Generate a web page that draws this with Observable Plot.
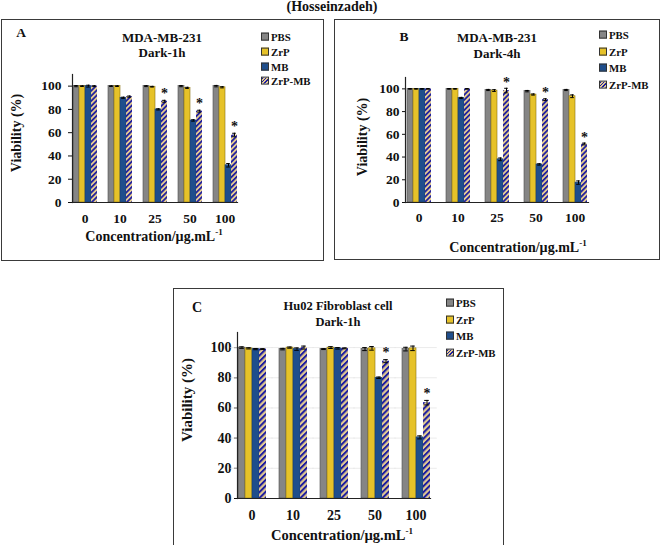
<!DOCTYPE html>
<html><head><meta charset="utf-8">
<script src="https://cdn.jsdelivr.net/npm/d3@7"></script>
<script src="https://cdn.jsdelivr.net/npm/@observablehq/plot@0.6"></script>
<style>
body{margin:0;background:#fff;}
#page{position:relative;width:661px;height:545px;overflow:hidden;font-family:"Liberation Serif","Times New Roman",serif;font-weight:bold;color:#111;}
.box{position:absolute;border:1.5px solid #3a3a3a;box-sizing:border-box;}
.t{position:absolute;white-space:nowrap;transform:translate(-50%,-50%);line-height:1;}
.plot{position:absolute;}
.lg{position:absolute;white-space:nowrap;line-height:1;transform:translateY(-50%);font-size:10.8px;}
.sw{display:inline-block;width:6px;height:6px;border:0.8px solid #333;margin-right:2px;vertical-align:0px;}
</style></head><body><div id="page"></div>
<script>
const concentrations = ["0","10","25","50","100"];
const treatments = ["PBS","ZrP","MB","ZrP-MB"];
const yTicks = [0,20,40,60,80,100];
const gridValues = [20,40,60,80,100];

// Panel A: MDA-MB-231, Dark-1h
const aPBS = [100,100,100,100,100];
const aZrP = [100,100,99.5,98.5,99];
const aMB = [100,90,80,70.5,32];
const aZrPMB = [100,91,87,78.5,58];
const aErrPBS = [0.5,0.3,0.4,0.5,0.6];
const aErrZrP = [0.3,0.3,0.3,0.5,0.5];
const aErrMB = [0.8,0.5,0.5,0.6,1.5];
const aErrZrPMB = [0.4,0.5,0.8,0.8,1.5];
const aStars = ["25","50","100"];

// Panel B: MDA-MB-231, Dark-4h
const bPBS = [100,100,99,98,99];
const bZrP = [100,100,98.5,95,93.5];
const bMB = [100,92,38,33.5,17.5];
const bZrPMB = [100,100,98.5,90.5,51.5];
const bErrPBS = [0.3,0.3,0.5,0.6,0.5];
const bErrZrP = [0.3,0.3,0.8,0.5,1.2];
const bErrMB = [0.3,0.5,1.2,0.6,1.5];
const bErrZrPMB = [0.3,0.3,2,0.8,0.8];
const bStars = ["25","50","100"];

// Panel C: Hu02 Fibroblast cell, Dark-1h
const cPBS = [100,99,99,99,99];
const cZrP = [99.5,100,100,99.5,99.5];
const cMB = [99,99,99.5,80,40.5];
const cZrPMB = [99,100,99.5,91,63.5];
const cErrPBS = [0.5,0.5,0.3,1,1.2];
const cErrZrP = [0.4,0.4,0.6,1.2,1.5];
const cErrMB = [0.4,0.8,0.5,0.5,1];
const cErrZrPMB = [0.3,1,0.3,1,1.5];
const cStars = ["50","100"];

const page = document.getElementById("page");
const NS = "http://www.w3.org/2000/svg";

function addText(html, x, y, size, extra){
  const d = document.createElement("div");
  d.className = "t";
  d.style.left = x+"px"; d.style.top = y+"px"; d.style.fontSize = size+"px";
  if (extra) d.style.transform = extra;
  d.innerHTML = html;
  page.appendChild(d);
}
function addBox(x1,y1,x2,y2){
  const d = document.createElement("div");
  d.className = "box";
  Object.assign(d.style,{left:x1+"px",top:y1+"px",width:(x2-x1)+"px",height:(y2-y1)+"px"});
  page.appendChild(d);
}
const swatchCss = {
  "PBS":"background:#858585;",
  "ZrP":"background:#e6c229;",
  "MB":"background:#1f4e8c;",
  "ZrP-MB":"background:repeating-linear-gradient(135deg,#1c1ca0 0 1.2px,#e3cb92 1.2px 2.6px);"
};
function addLegend(x, ys){
  treatments.forEach((t,i)=>{
    const d = document.createElement("div");
    d.className = "lg";
    d.style.left = x+"px"; d.style.top = ys[i]+"px";
    d.innerHTML = `<span class="sw" style="${swatchCss[t]}"></span>${t}`;
    page.appendChild(d);
  });
}

function panel(cfg){
  const vals = cfg.values, errs = cfg.errors;
  const rows = [];
  concentrations.forEach((c,j)=> treatments.forEach((t,i)=> rows.push({c, t, v: vals[i][j], e: errs[i][j]})));
  const starRows = rows.filter(r => r.t === "ZrP-MB" && cfg.stars.includes(r.c));
  const pid = "stripes" + cfg.id;
  const fillMap = {"PBS":"#858585","ZrP":"#e6c229","MB":"#1f4e8c","ZrP-MB":`url(#${pid})`};
  const strokeMap = {"PBS":"#4d4d4d","ZrP":"#8a7414","MB":"#1a3f70","ZrP-MB":"none"};
  const defs = () => {
    const d = document.createElementNS(NS,"defs");
    const p = document.createElementNS(NS,"pattern");
    p.setAttribute("id", pid);
    p.setAttribute("patternUnits","userSpaceOnUse");
    p.setAttribute("width", cfg.stripe);
    p.setAttribute("height", cfg.stripe);
    p.setAttribute("patternTransform","rotate(45)");
    const r = document.createElementNS(NS,"rect");
    r.setAttribute("width", cfg.stripe); r.setAttribute("height", cfg.stripe); r.setAttribute("fill","#e3cb92");
    const l = document.createElementNS(NS,"rect");
    l.setAttribute("width", cfg.stripe*0.48); l.setAttribute("height", cfg.stripe); l.setAttribute("fill","#1c1ca0");
    p.appendChild(r); p.appendChild(l); d.appendChild(p);
    return d;
  };
  const outerPad = (cfg.width - cfg.ml - cfg.mr) / 5 * 0.15;
  const marks = [defs];
  if (cfg.grid) marks.push(Plot.ruleY(gridValues, {stroke:"#e6e6e6", strokeWidth:0.8, insetLeft:-outerPad-0.5, insetRight:-outerPad-0.5}));
  marks.push(
    Plot.barY(rows, {fx:"c", x:"t", y:"v", fill: d => fillMap[d.t], stroke: d => strokeMap[d.t], strokeWidth:0.6}),
    Plot.ruleX(rows, {fx:"c", x:"t", y1: d => d.v - d.e, y2: d => d.v + d.e, stroke:"#000", strokeWidth:1}),
    Plot.tickY(rows, {fx:"c", x:"t", y: d => d.v + d.e, stroke:"#000", strokeWidth:1, insetLeft:1.2, insetRight:1.2}),
    Plot.tickY(rows, {fx:"c", x:"t", y: d => d.v - d.e, stroke:"#000", strokeWidth:1, insetLeft:1.2, insetRight:1.2}),
    Plot.text(starRows, {fx:"c", x:"t", y: d => d.v + d.e, text: () => "*", dy: cfg.starDy, fontSize: 14, fill:"#111"}),
    Plot.frame({anchor:"left", facet:"super", stroke:"#222", strokeWidth:1.2}),
    Plot.frame({anchor:"bottom", facet:"super", stroke:"#222", strokeWidth:1.2})
  );
  const svg = Plot.plot({
    width: cfg.width, height: cfg.height,
    marginLeft: cfg.ml, marginRight: cfg.mr, marginTop: cfg.mt, marginBottom: cfg.mb,
    style: {fontFamily: '"Liberation Serif", "Times New Roman", serif', fontWeight: "bold", fontSize: cfg.fs + "px", color: "#111", background: "transparent"},
    fx: {domain: concentrations, paddingInner: 0.3, paddingOuter: 0.15, label: null, axis: "bottom", tickSize: 0, tickPadding: cfg.fxPad},
    x: {domain: treatments, padding: 0, axis: null},
    y: {domain: [0,110], ticks: yTicks, tickSize: cfg.yTick, tickPadding: cfg.yPad, label: null},
    color: {type: "identity"},
    marks
  });
  svg.classList.add("plot");
  svg.style.position = "absolute";
  svg.style.left = cfg.left + "px";
  svg.style.top = cfg.top + "px";
  page.appendChild(svg);
}

const sup = '<span style="font-size:9px;position:relative;top:-6px">-1</span>';

// Title
addText("(Hosseinzadeh)", 332, 7, 14);

// Panel A
addBox(1,19,324,261);
panel({id:"A", values:[aPBS,aZrP,aMB,aZrPMB], errors:[aErrPBS,aErrZrP,aErrMB,aErrZrPMB], stars:aStars,
  left:2, top:20, width:320, height:238, ml:64, mr:79, mt:54, mb:56, fs:13.5, fxPad:10.5, yTick:4, yPad:7, stripe:3.6, starDy:-7});
addText("A", 21, 33, 13.5);
addText("MDA-MB-231", 162, 37, 13);
addText("Dark-1h", 162, 52, 13);
addLegend(261, [37,52,67,81]);
addText("Viability (%)", 17, 133, 14, "translate(-50%,-50%) rotate(-90deg)");
addText('Concentration/µg.mL' + sup, 154, 237, 14);

// Panel B
addBox(334,19,660,260);
panel({id:"B", values:[bPBS,bZrP,bMB,bZrPMB], errors:[bErrPBS,bErrZrP,bErrMB,bErrZrPMB], stars:bStars,
  left:335, top:20, width:323, height:238, ml:64, mr:64, mt:57, mb:56, fs:13.5, fxPad:9.5, yTick:3, yPad:3, stripe:3.6, starDy:-6});
addText("B", 404, 37, 13.5);
addText("MDA-MB-231", 497, 37, 13);
addText("Dark-4h", 497, 53, 13);
addLegend(599, [35,52,68,85]);
addText("Viability (%)", 363, 137, 14, "translate(-50%,-50%) rotate(-90deg)");
addText('Concentration/µg.mL' + sup, 518, 248, 14);

// Panel C
addBox(173,288,504,546);
panel({id:"C", values:[cPBS,cZrP,cMB,cZrPMB], errors:[cErrPBS,cErrZrP,cErrMB,cErrZrPMB], stars:cStars, grid:true,
  left:174, top:289, width:328, height:253, ml:55, mr:64, mt:43, mb:44, fs:14, fxPad:11.4, yTick:3, yPad:3, stripe:4.2, starDy:-7});
addText("C", 197, 308, 14);
addText("Hu02 Fibroblast cell", 338, 306, 12.5);
addText("Dark-1h", 338, 322, 12.5);
addLegend(446, [303,320,336,353]);
addText("Viability (%)", 187, 400, 15, "translate(-50%,-50%) rotate(-90deg)");
addText('Concentration/µg.mL' + sup, 342, 535, 14.5);
</script>
</body></html>
